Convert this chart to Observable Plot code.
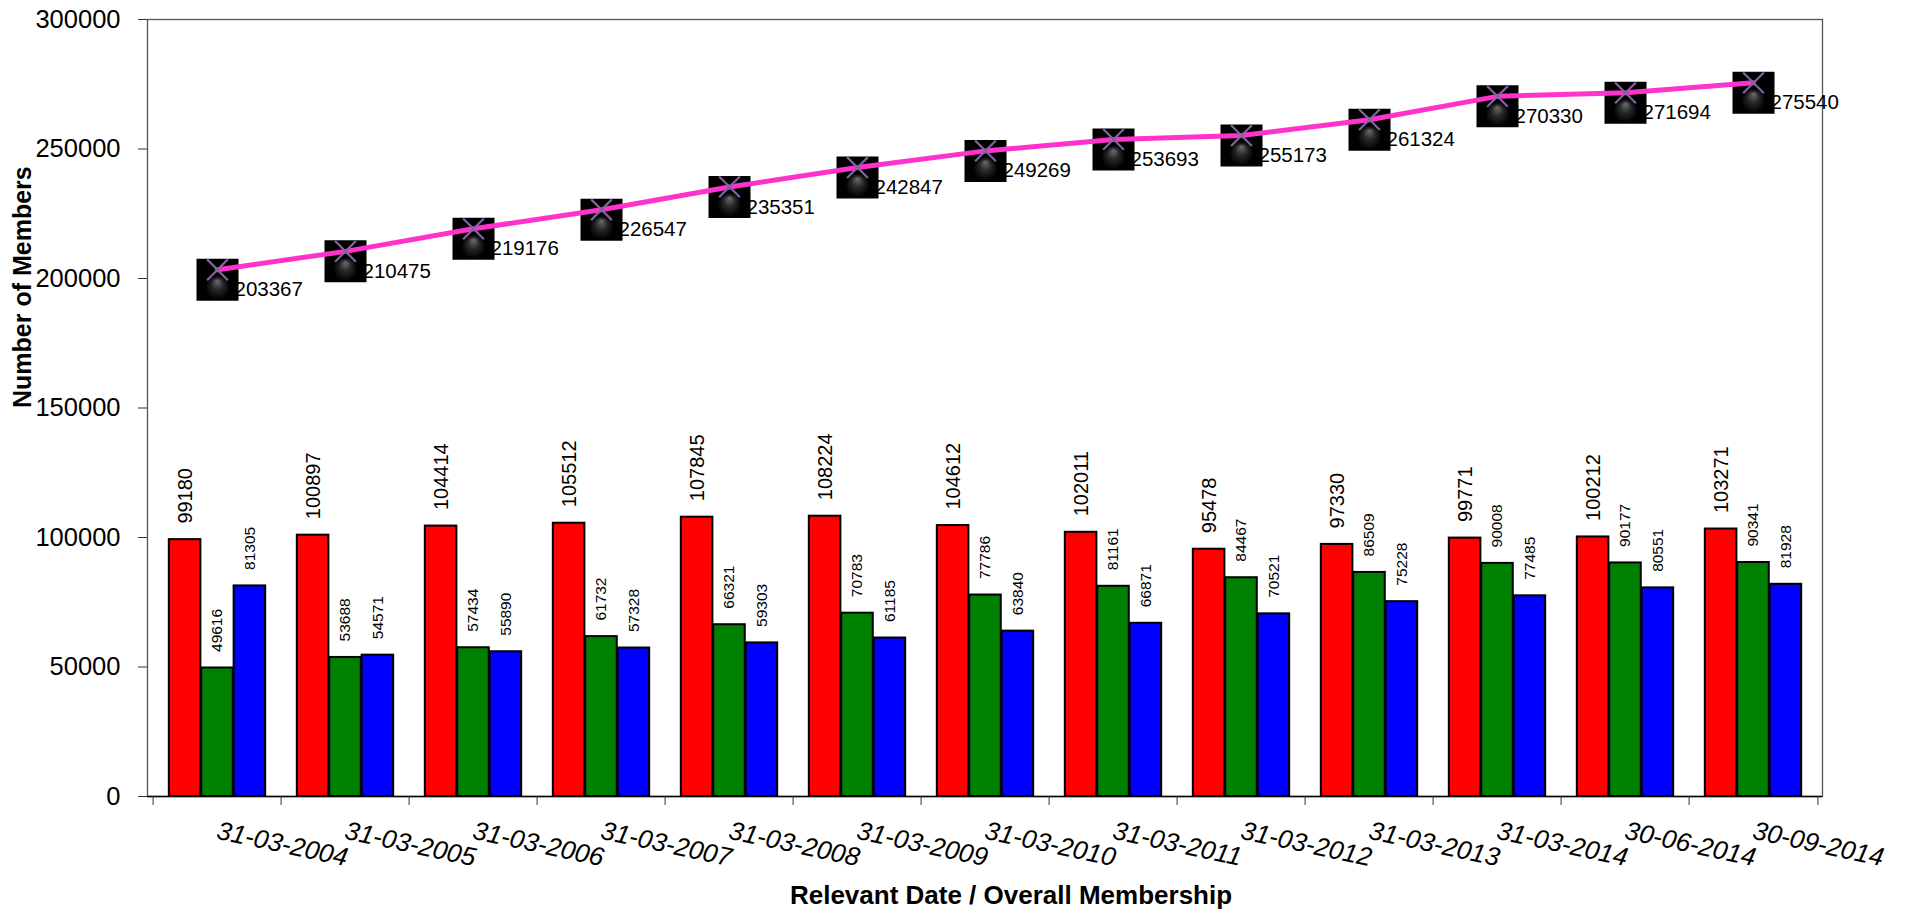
<!DOCTYPE html>
<html>
<head>
<meta charset="utf-8">
<script src="https://cdn.jsdelivr.net/npm/d3@7"></script>
<script src="https://cdn.jsdelivr.net/npm/@observablehq/plot@0.6"></script>
<style>
  html, body { margin: 0; padding: 0; background: #fff; }
  svg { display: block; }
</style>
</head>
<body>
<div id="chart"></div>
<script>
// ---- data ----
const dates = ["31-03-2004","31-03-2005","31-03-2006","31-03-2007","31-03-2008","31-03-2009","31-03-2010","31-03-2011","31-03-2012","31-03-2013","31-03-2014","30-06-2014","30-09-2014"];
const redValues   = [99180,100897,104414,105512,107845,108224,104612,102011,95478,97330,99771,100212,103271];
const greenValues = [49616,53688,57434,61732,66321,70783,77786,81161,84467,86509,90008,90177,90341];
const blueValues  = [81305,54571,55890,57328,59303,61185,63840,66871,70521,75228,77485,80551,81928];
const overall     = [203367,210475,219176,226547,235351,242847,249269,253693,255173,261324,270330,271694,275540];
const yTicks = [0,50000,100000,150000,200000,250000,300000];
const xTitle = "Relevant Date / Overall Membership";
const yTitle = "Number of Members";

// ---- layout ----
const W = 1915, H = 914, ML = 147, MR = 93, MT = 19, MB = 118;
const step = (W - ML - MR) / dates.length;
const bw = 32.4;
const outer = (step - 3 * bw) / 2;
const font = "'Liberation Sans', Arial, Helvetica, sans-serif";

const seriesDefs = [
  {values: redValues, fill: "#ff0000", fs: 20},
  {values: greenValues, fill: "#008000", fs: 15.5},
  {values: blueValues, fill: "#0000ff", fs: 15.5}
];

const marks = [Plot.frame({stroke: "#555", strokeWidth: 1.3})];

seriesDefs.forEach((s, k) => {
  const rows = dates.map((d, i) => ({date: d, value: s.values[i]}));
  const left = outer + k * bw;
  const right = step - left - bw;
  marks.push(Plot.barY(rows, {
    x: "date", y: "value", fill: s.fill, stroke: "#000", strokeWidth: 2,
    insetLeft: left, insetRight: right
  }));
  marks.push(Plot.text(rows, {
    x: "date", y: "value", text: r => String(r.value),
    rotate: -90, textAnchor: "start", lineAnchor: "middle",
    dx: left + bw / 2 - step / 2, dy: -16, fontSize: s.fs, fill: "#000"
  }));
});

const totals = dates.map((d, i) => ({date: d, total: overall[i]}));

marks.push(
  Plot.ruleY([0], {stroke: "#000", strokeWidth: 1.3}),
  Plot.axisY({ticks: yTicks, tickFormat: d => String(d), tickSize: 9, tickPadding: 18, fontSize: 25.5, stroke: "#333", fill: "#000", label: null}),
  Plot.axisX({ticks: dates, tickSize: 9, tickFormat: () => "", dx: -step / 2, stroke: "#333", label: null}),
  Plot.axisX({ticks: [dates[dates.length - 1]], tickSize: 9, tickFormat: () => "", dx: step / 2, stroke: "#333", label: null}),
  Plot.text(dates, {x: d => d, frameAnchor: "bottom", dy: 42, dx: -2, rotate: 12, textAnchor: "start", lineAnchor: "bottom", fontStyle: "italic", fontSize: 26, fill: "#000"}),
  // overall labels
  Plot.text(totals, {x: "date", y: "total", text: r => String(r.total), textAnchor: "start", lineAnchor: "middle", dx: 17, dy: 20, fontSize: 20.5, fill: "#000"}),
  // marker squares
  Plot.dot(totals, {x: "date", y: "total", symbol: "square", r: 42 / Math.sqrt(Math.PI), fill: "#000", dy: 10}),
  Plot.dot(totals, {x: "date", y: "total", r: 12, fill: "url(#glow)", dy: 18}),
  Plot.line(totals, {x: "date", y: "total", stroke: "#ff33cc", strokeWidth: 5}),
  Plot.dot(totals, {x: "date", y: "total", symbol: "times", r: 9.5, stroke: "#8064a2", strokeWidth: 2.2}),
  // titles
  Plot.text([xTitle], {frameAnchor: "bottom", dy: 99, dx: 26, lineAnchor: "middle", fontWeight: "bold", fontSize: 26, fill: "#000"}),
  Plot.text([yTitle], {frameAnchor: "left", dx: 22 - ML, rotate: -90, lineAnchor: "middle", fontWeight: "bold", fontSize: 25, fill: "#000"})
);

const svg = Plot.plot({
  width: W, height: H,
  marginLeft: ML, marginRight: MR, marginTop: MT, marginBottom: MB,
  x: {type: "band", domain: dates, padding: 0, axis: null, label: null},
  y: {domain: [0, 300000], axis: null, label: null},
  style: {fontFamily: font, background: "#fff", color: "#000", overflow: "visible"},
  marks
});

const defs = d3.select(svg).insert("defs", ":first-child");
const g = defs.append("radialGradient").attr("id", "glow")
  .attr("cx", "50%").attr("cy", "50%").attr("r", "50%").attr("fx", "50%").attr("fy", "20%");
g.append("stop").attr("offset", "0%").attr("stop-color", "#6e6e6e");
g.append("stop").attr("offset", "50%").attr("stop-color", "#262626");
g.append("stop").attr("offset", "100%").attr("stop-color", "#000");

document.getElementById("chart").appendChild(svg);
</script>
</body>
</html>
